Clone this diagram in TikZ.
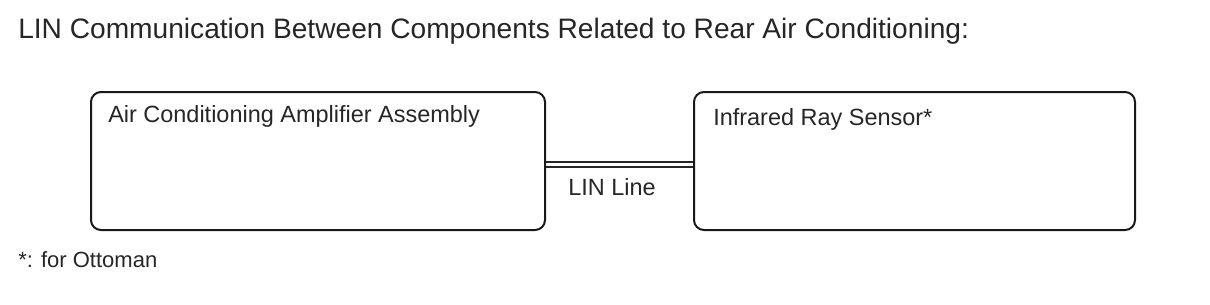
\documentclass[tikz,border=0pt]{standalone}
\usepackage{fontspec}
\setmainfont{Liberation Sans}
\begin{document}
\begin{tikzpicture}[x=0.75pt,y=-0.75pt,
  unit box/.style={draw=black!90, line width=1.5pt, rounded corners=7.5pt, inner sep=0pt, minimum height=103.5pt},
  txt/.style={anchor=base west, inner sep=0pt, text=black!85},
  boxlabel/.style={txt, font=\fontsize{17.6}{20}\selectfont},
  linkline/.style={draw=black!85, line width=1.2pt}]
\useasboundingbox (0,0) rectangle (1210,304);
\node[txt, font=\fontsize{21.1}{25}\selectfont] (title) at (18,38) {LIN Communication Between Components Related to Rear Air Conditioning:};
\node[unit box, minimum width=340.5pt] (amp) at (318,161) {};
\node[unit box, minimum width=330.75pt] (sensor) at (914.5,161) {};
\node[boxlabel] (amplbl) at (108,122) {Air Conditioning Amplifier Assembly};
\node[boxlabel] (senslbl) at (713,125) {Infrared Ray Sensor*};
\draw[linkline] ([yshift=-0.75pt]amp.east) -- ([yshift=-0.75pt]sensor.west);
\draw[linkline] ([yshift=-4.5pt]amp.east) -- ([yshift=-4.5pt]sensor.west);
\node[boxlabel] (linlbl) at (568,195) {LIN Line};
\node[txt, font=\fontsize{16.5}{19}\selectfont] (foot) at (18,267) {*: for Ottoman};
\end{tikzpicture}
\end{document}
